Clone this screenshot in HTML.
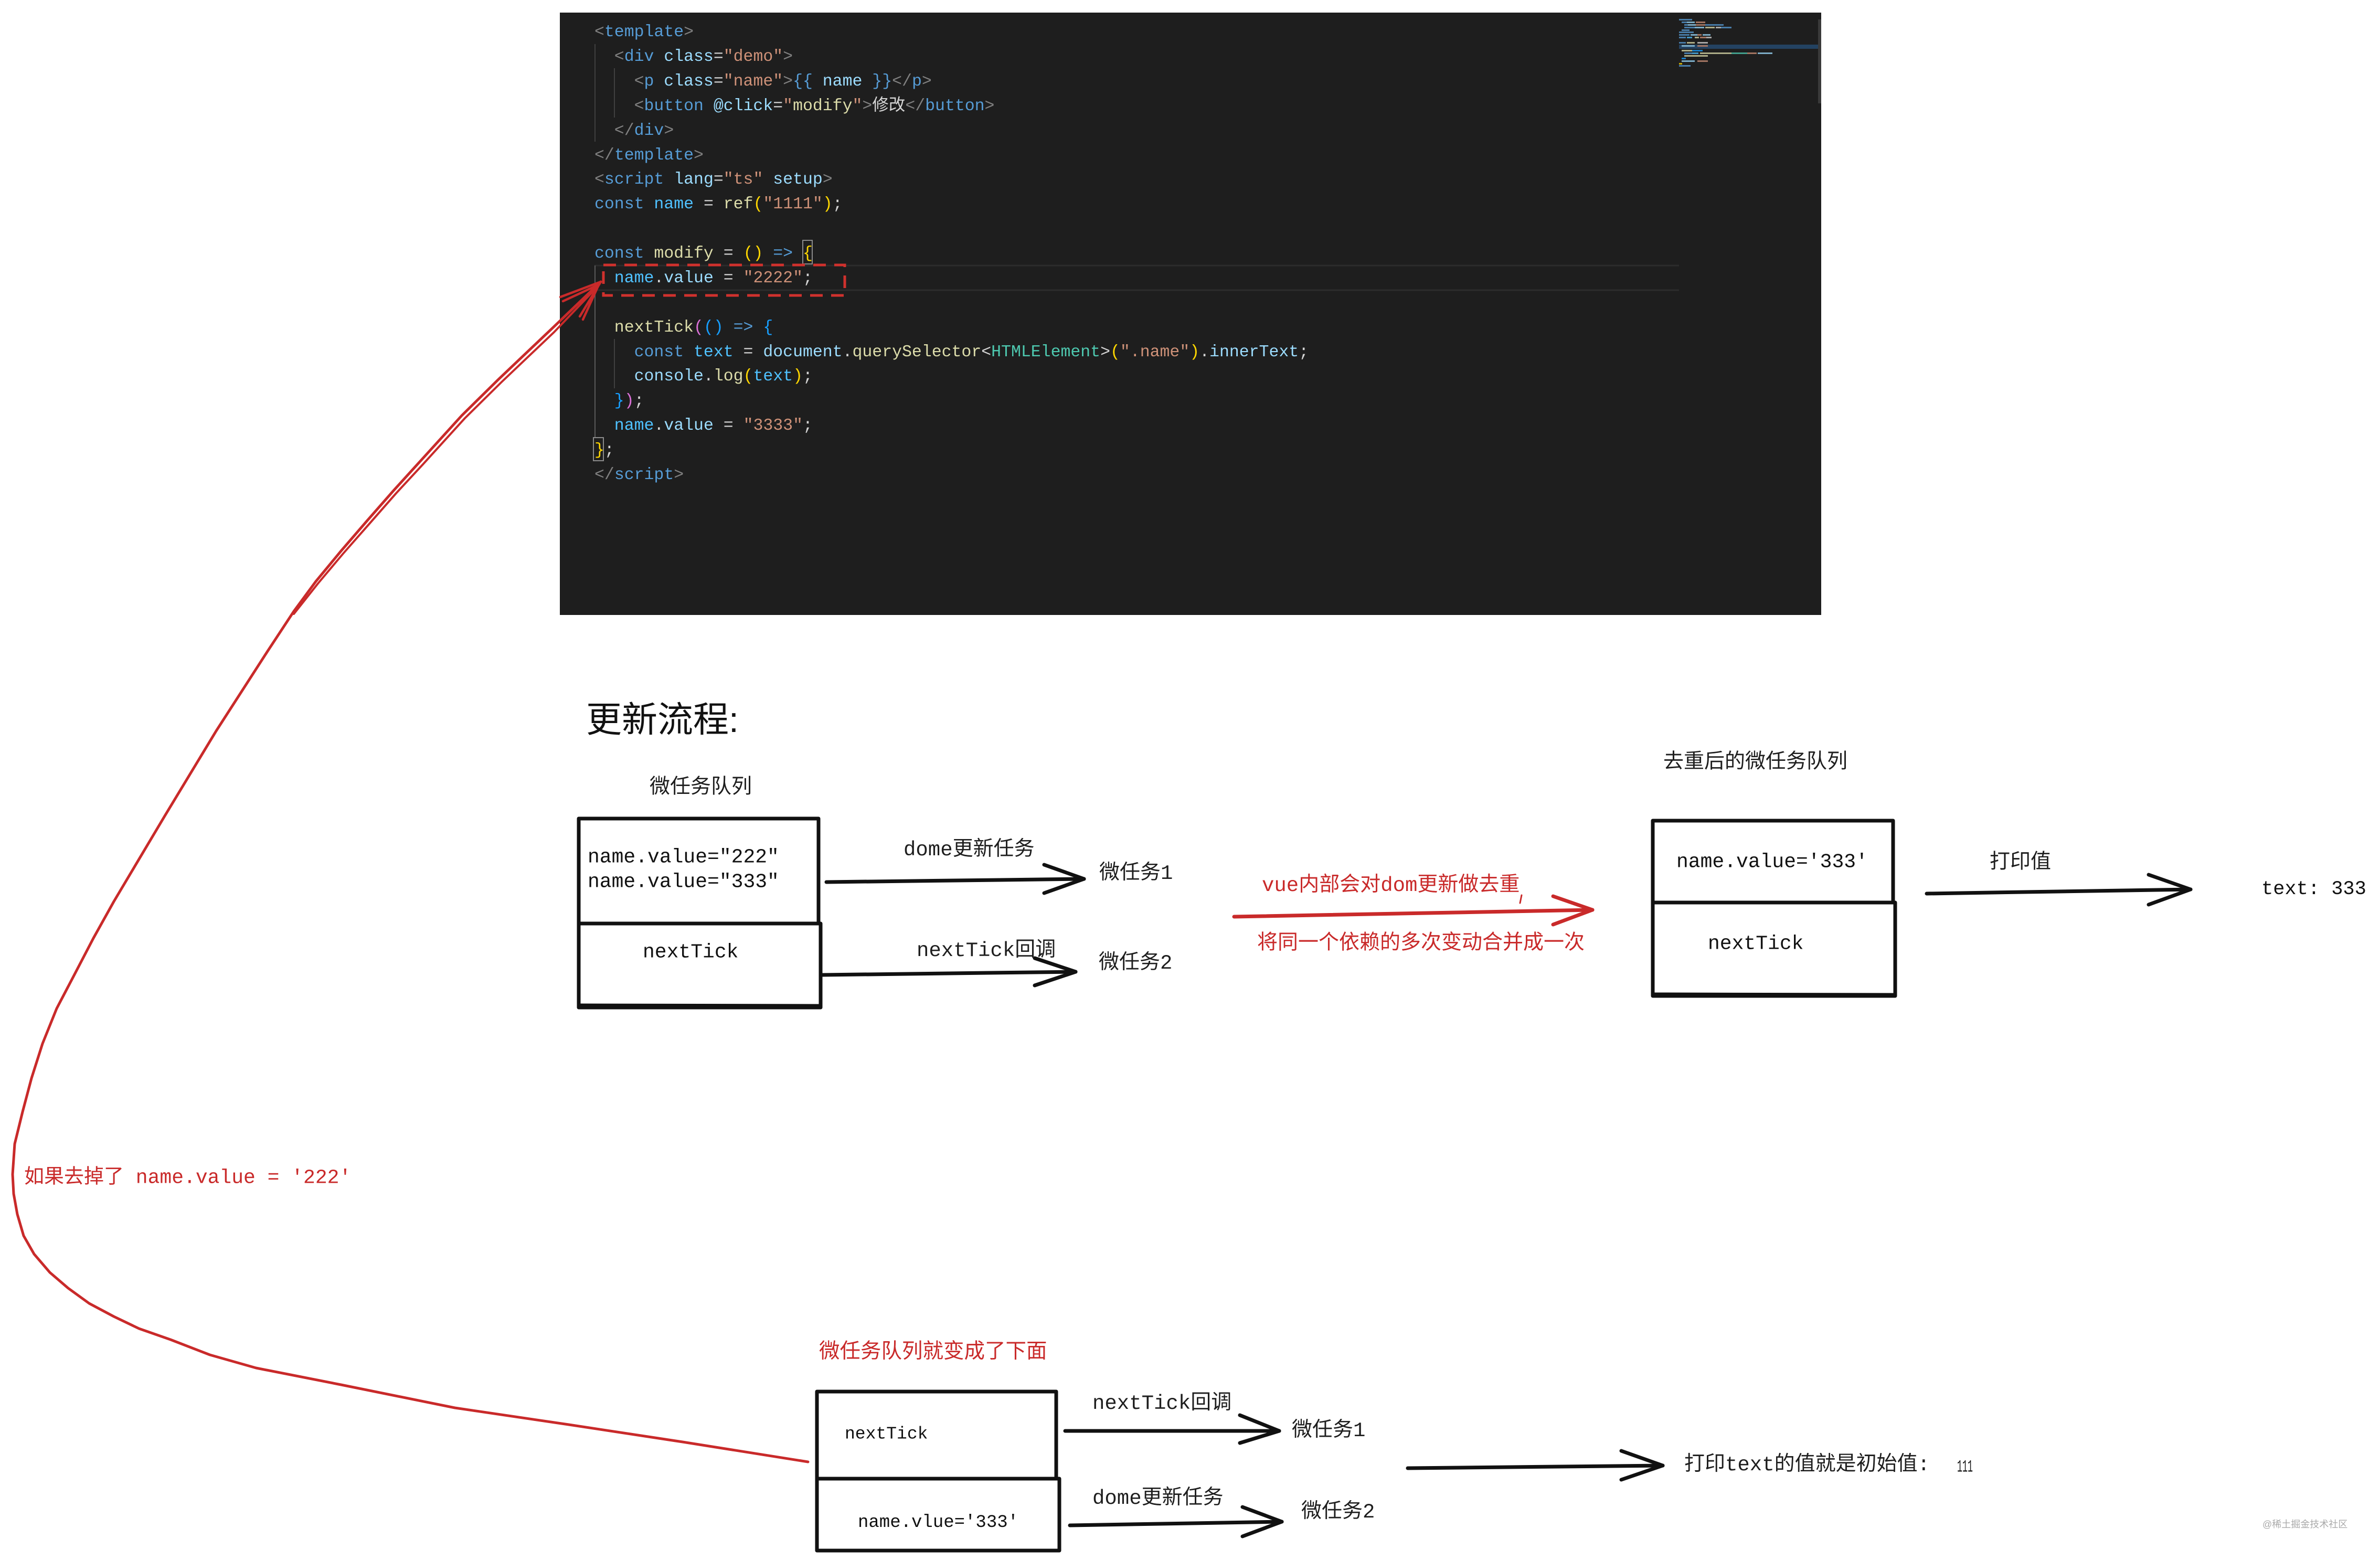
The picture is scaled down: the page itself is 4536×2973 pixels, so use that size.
<!DOCTYPE html>
<html>
<head>
<meta charset="utf-8">
<style>
html,body{margin:0;padding:0;background:#ffffff;width:4536px;height:2973px;overflow:hidden}
svg{display:block}
.code{font-family:"Liberation Mono","Noto Sans CJK SC",monospace;font-size:31.5px;white-space:pre}
.mono{font-family:"Liberation Mono","Noto Sans CJK SC",monospace;white-space:pre}
.cjk{font-family:"Liberation Sans","Noto Sans CJK SC",sans-serif;white-space:pre}
</style>
</head>
<body>
<svg width="4536" height="2973" viewBox="0 0 4536 2973" xmlns="http://www.w3.org/2000/svg">
<rect x="0" y="0" width="4536" height="2973" fill="#ffffff"/>

<!-- ===== Code editor screenshot ===== -->
<rect x="1067" y="24" width="2404" height="1148" fill="#1e1e1e"/>
<!-- current line highlight -->
<line x1="1133" y1="506" x2="3200" y2="506" stroke="#2c2c2c" stroke-width="3"/>
<line x1="1133" y1="553" x2="3200" y2="553" stroke="#2c2c2c" stroke-width="3"/>
<!-- indent guides -->
<line x1="1134" y1="84" x2="1134" y2="270" stroke="#404040" stroke-width="2"/>
<line x1="1171" y1="130" x2="1171" y2="224" stroke="#404040" stroke-width="2"/>
<line x1="1134" y1="506" x2="1134" y2="834" stroke="#5a5a5a" stroke-width="2"/>
<line x1="1171" y1="646" x2="1171" y2="740" stroke="#404040" stroke-width="2"/>
<!-- bracket match boxes -->
<rect x="1530" y="458" width="18" height="45" fill="none" stroke="#8a8a8a" stroke-width="2"/>
<rect x="1131" y="834" width="19" height="44" fill="none" stroke="#8a8a8a" stroke-width="2"/>

<g class="code" dominant-baseline="central">
<text x="1133" y="61"><tspan fill="#808080">&lt;</tspan><tspan fill="#569cd6">template</tspan><tspan fill="#808080">&gt;</tspan></text>
<text x="1170.8" y="108"><tspan fill="#808080">&lt;</tspan><tspan fill="#569cd6">div</tspan><tspan fill="#9cdcfe"> class</tspan><tspan fill="#d4d4d4">=</tspan><tspan fill="#ce9178">"demo"</tspan><tspan fill="#808080">&gt;</tspan></text>
<text x="1208.6" y="155"><tspan fill="#808080">&lt;</tspan><tspan fill="#569cd6">p</tspan><tspan fill="#9cdcfe"> class</tspan><tspan fill="#d4d4d4">=</tspan><tspan fill="#ce9178">"name"</tspan><tspan fill="#808080">&gt;</tspan><tspan fill="#569cd6">{{ </tspan><tspan fill="#9cdcfe">name</tspan><tspan fill="#569cd6"> }}</tspan><tspan fill="#808080">&lt;/</tspan><tspan fill="#569cd6">p</tspan><tspan fill="#808080">&gt;</tspan></text>
<text x="1208.6" y="202"><tspan fill="#808080">&lt;</tspan><tspan fill="#569cd6">button</tspan><tspan fill="#9cdcfe"> @click</tspan><tspan fill="#d4d4d4">=</tspan><tspan fill="#ce9178">"</tspan><tspan fill="#dcdcaa">modify</tspan><tspan fill="#ce9178">"</tspan><tspan fill="#808080">&gt;</tspan><tspan fill="#d4d4d4">修改</tspan><tspan fill="#808080">&lt;/</tspan><tspan fill="#569cd6">button</tspan><tspan fill="#808080">&gt;</tspan></text>
<text x="1170.8" y="249"><tspan fill="#808080">&lt;/</tspan><tspan fill="#569cd6">div</tspan><tspan fill="#808080">&gt;</tspan></text>
<text x="1133" y="296"><tspan fill="#808080">&lt;/</tspan><tspan fill="#569cd6">template</tspan><tspan fill="#808080">&gt;</tspan></text>
<text x="1133" y="342"><tspan fill="#808080">&lt;</tspan><tspan fill="#569cd6">script</tspan><tspan fill="#9cdcfe"> lang</tspan><tspan fill="#d4d4d4">=</tspan><tspan fill="#ce9178">"ts"</tspan><tspan fill="#9cdcfe"> setup</tspan><tspan fill="#808080">&gt;</tspan></text>
<text x="1133" y="389"><tspan fill="#569cd6">const</tspan><tspan fill="#d4d4d4"> </tspan><tspan fill="#4fc1ff">name</tspan><tspan fill="#d4d4d4"> = </tspan><tspan fill="#dcdcaa">ref</tspan><tspan fill="#ffd700">(</tspan><tspan fill="#ce9178">"1111"</tspan><tspan fill="#ffd700">)</tspan><tspan fill="#d4d4d4">;</tspan></text>
<text x="1133" y="483"><tspan fill="#569cd6">const</tspan><tspan fill="#d4d4d4"> </tspan><tspan fill="#dcdcaa">modify</tspan><tspan fill="#d4d4d4"> = </tspan><tspan fill="#ffd700">()</tspan><tspan fill="#d4d4d4"> </tspan><tspan fill="#569cd6">=&gt;</tspan><tspan fill="#d4d4d4"> </tspan><tspan fill="#ffd700">{</tspan></text>
<text x="1170.8" y="530"><tspan fill="#4fc1ff">name</tspan><tspan fill="#d4d4d4">.</tspan><tspan fill="#9cdcfe">value</tspan><tspan fill="#d4d4d4"> = </tspan><tspan fill="#ce9178">"2222"</tspan><tspan fill="#d4d4d4">;</tspan></text>
<text x="1170.8" y="624"><tspan fill="#dcdcaa">nextTick</tspan><tspan fill="#da70d6">(</tspan><tspan fill="#179fff">()</tspan><tspan fill="#d4d4d4"> </tspan><tspan fill="#569cd6">=&gt;</tspan><tspan fill="#d4d4d4"> </tspan><tspan fill="#179fff">{</tspan></text>
<text x="1208.6" y="671"><tspan fill="#569cd6">const</tspan><tspan fill="#d4d4d4"> </tspan><tspan fill="#4fc1ff">text</tspan><tspan fill="#d4d4d4"> = </tspan><tspan fill="#9cdcfe">document</tspan><tspan fill="#d4d4d4">.</tspan><tspan fill="#dcdcaa">querySelector</tspan><tspan fill="#d4d4d4">&lt;</tspan><tspan fill="#4ec9b0">HTMLElement</tspan><tspan fill="#d4d4d4">&gt;</tspan><tspan fill="#ffd700">(</tspan><tspan fill="#ce9178">".name"</tspan><tspan fill="#ffd700">)</tspan><tspan fill="#d4d4d4">.</tspan><tspan fill="#9cdcfe">innerText</tspan><tspan fill="#d4d4d4">;</tspan></text>
<text x="1208.6" y="717"><tspan fill="#9cdcfe">console</tspan><tspan fill="#d4d4d4">.</tspan><tspan fill="#dcdcaa">log</tspan><tspan fill="#ffd700">(</tspan><tspan fill="#4fc1ff">text</tspan><tspan fill="#ffd700">)</tspan><tspan fill="#d4d4d4">;</tspan></text>
<text x="1170.8" y="764"><tspan fill="#179fff">}</tspan><tspan fill="#da70d6">)</tspan><tspan fill="#d4d4d4">;</tspan></text>
<text x="1170.8" y="811"><tspan fill="#4fc1ff">name</tspan><tspan fill="#d4d4d4">.</tspan><tspan fill="#9cdcfe">value</tspan><tspan fill="#d4d4d4"> = </tspan><tspan fill="#ce9178">"3333"</tspan><tspan fill="#d4d4d4">;</tspan></text>
<text x="1133" y="858"><tspan fill="#ffd700">}</tspan><tspan fill="#d4d4d4">;</tspan></text>
<text x="1133" y="905"><tspan fill="#808080">&lt;/</tspan><tspan fill="#569cd6">script</tspan><tspan fill="#808080">&gt;</tspan></text>
</g>

<!-- minimap -->
<g opacity="0.75">
<rect x="3200" y="85" width="265" height="8" fill="#264f78"/>
<rect x="3200" y="36" width="25" height="3" fill="#569cd6"/>
<rect x="3205" y="41" width="10" height="3" fill="#569cd6"/><rect x="3215" y="41" width="15" height="3" fill="#9cdcfe"/><rect x="3232" y="41" width="18" height="3" fill="#ce9178"/>
<rect x="3210" y="46" width="7" height="3" fill="#569cd6"/><rect x="3217" y="46" width="15" height="3" fill="#9cdcfe"/><rect x="3232" y="46" width="18" height="3" fill="#ce9178"/><rect x="3250" y="46" width="35" height="3" fill="#569cd6"/>
<rect x="3210" y="51" width="20" height="3" fill="#569cd6"/><rect x="3230" y="51" width="18" height="3" fill="#9cdcfe"/><rect x="3250" y="51" width="18" height="3" fill="#dcdcaa"/><rect x="3270" y="51" width="10" height="3" fill="#d4d4d4"/><rect x="3280" y="51" width="20" height="3" fill="#569cd6"/>
<rect x="3205" y="56" width="15" height="3" fill="#569cd6"/>
<rect x="3200" y="60" width="28" height="3" fill="#569cd6"/>
<rect x="3200" y="65" width="20" height="3" fill="#569cd6"/><rect x="3222" y="65" width="13" height="3" fill="#9cdcfe"/><rect x="3235" y="65" width="8" height="3" fill="#ce9178"/><rect x="3245" y="65" width="15" height="3" fill="#9cdcfe"/>
<rect x="3200" y="70" width="13" height="3" fill="#569cd6"/><rect x="3215" y="70" width="10" height="3" fill="#4fc1ff"/><rect x="3230" y="70" width="8" height="3" fill="#dcdcaa"/><rect x="3240" y="70" width="12" height="3" fill="#ce9178"/><rect x="3252" y="70" width="10" height="3" fill="#d4d4d4"/>
<rect x="3200" y="80" width="13" height="3" fill="#569cd6"/><rect x="3215" y="80" width="15" height="3" fill="#dcdcaa"/><rect x="3235" y="80" width="20" height="3" fill="#d4d4d4"/>
<rect x="3205" y="86" width="25" height="3" fill="#9cdcfe"/><rect x="3235" y="86" width="20" height="3" fill="#ce9178"/>
<rect x="3205" y="95" width="20" height="3" fill="#dcdcaa"/><rect x="3225" y="95" width="20" height="3" fill="#179fff"/>
<rect x="3210" y="100" width="15" height="3" fill="#569cd6"/><rect x="3225" y="100" width="12" height="3" fill="#4fc1ff"/><rect x="3240" y="100" width="60" height="3" fill="#dcdcaa"/><rect x="3300" y="100" width="30" height="3" fill="#4ec9b0"/><rect x="3330" y="100" width="18" height="3" fill="#ce9178"/><rect x="3350" y="100" width="28" height="3" fill="#9cdcfe"/>
<rect x="3210" y="105" width="45" height="3" fill="#dcdcaa"/>
<rect x="3205" y="110" width="8" height="3" fill="#179fff"/>
<rect x="3205" y="115" width="25" height="3" fill="#9cdcfe"/><rect x="3235" y="115" width="20" height="3" fill="#ce9178"/>
<rect x="3200" y="120" width="6" height="3" fill="#ffd700"/>
<rect x="3200" y="124" width="22" height="3" fill="#569cd6"/>
</g>
<rect x="3465" y="37" width="6" height="160" fill="#3a3a3a"/>

<!-- red dashed box -->
<rect x="1150" y="505" width="460" height="58" fill="none" stroke="#d0312d" stroke-width="5" stroke-dasharray="24 16"/>

<!-- ===== red curved connector ===== -->
<g fill="none" stroke="#c92a2a" stroke-linecap="round" stroke-linejoin="round">
<polyline stroke-width="5" points="1540,2786 1301,2748 1084,2715 867,2683 650,2639 488,2607 400,2582 325,2553 265,2532 217,2509 170,2484 130,2455 95,2425 65,2390 45,2355 33,2314 26,2275 24,2238 28,2180 43,2119 60,2055 81,1989 108,1922 141,1859 178,1788 217,1718 314,1555 412,1393 510,1241 560,1165 602,1108 650,1050 700,992 750,935 800,880 880,792 950,723 1050,628 1145,537"/>
<polyline stroke-width="4" points="560,1170 606,1112 654,1055 705,997 755,940 806,885 886,797 956,728 1056,633 1140,545"/>
<line x1="1145" y1="537" x2="1068" y2="566" stroke-width="4.5"/>
<line x1="1142" y1="542" x2="1073" y2="574" stroke-width="4.5"/>
<line x1="1145" y1="537" x2="1105" y2="603" stroke-width="4.5"/>
<line x1="1140" y1="545" x2="1111" y2="609" stroke-width="4.5"/>
</g>
<text class="mono" x="46" y="2245" font-size="38" fill="#c92a2a" dominant-baseline="central">如果去掉了 name.value = '222'</text>

<!-- ===== 更新流程 section ===== -->
<text class="cjk" x="1117" y="1372" font-size="68" fill="#111" dominant-baseline="central">更新流程:</text>
<text class="cjk" x="1238" y="1499" font-size="39" fill="#1e1e1e" dominant-baseline="central">微任务队列</text>

<g fill="none" stroke="#111" stroke-width="7" stroke-linecap="round" stroke-linejoin="round">
<!-- box A -->
<rect x="1103" y="1560" width="457" height="200"/>
<rect x="1103" y="1760" width="461" height="160"/>
<line x1="1103" y1="1915" x2="1562" y2="1916" stroke-width="5"/>
<!-- arrow A1 -->
<line x1="1575" y1="1681" x2="2066" y2="1675"/>
<line x1="1990" y1="1648" x2="2066" y2="1675"/>
<line x1="1990" y1="1702" x2="2066" y2="1675"/>
<!-- arrow A2 -->
<line x1="1566" y1="1858" x2="2050" y2="1852"/>
<line x1="1972" y1="1826" x2="2050" y2="1852"/>
<line x1="1972" y1="1878" x2="2050" y2="1852"/>
</g>
<g class="mono" font-size="38" fill="#111" dominant-baseline="central">
<text x="1120" y="1634">name.value="222"</text>
<text x="1120" y="1681">name.value="333"</text>
<text x="1225" y="1815">nextTick</text>
</g>
<g class="mono" font-size="39" fill="#1e1e1e" dominant-baseline="central">
<text x="1722" y="1620">dome更新任务</text>
<text x="2095" y="1665">微任务1</text>
<text x="1747" y="1812">nextTick回调</text>
<text x="2094" y="1836">微任务2</text>
</g>

<!-- red middle arrow -->
<g fill="none" stroke="#c92a2a" stroke-width="7" stroke-linecap="round">
<line x1="2352" y1="1747" x2="3035" y2="1734"/>
<line x1="2960" y1="1708" x2="3035" y2="1734"/>
<line x1="2960" y1="1762" x2="3035" y2="1734"/>
<line x1="2900" y1="1706" x2="2897" y2="1721" stroke-width="3"/>
</g>
<text class="mono" x="2405" y="1688" font-size="39" fill="#c92a2a" dominant-baseline="central">vue内部会对dom更新做去重</text>
<text class="cjk" x="2396" y="1796" font-size="39" fill="#c92a2a" dominant-baseline="central">将同一个依赖的多次变动合并成一次</text>

<!-- right section -->
<text class="cjk" x="3170" y="1451" font-size="39" fill="#1e1e1e" dominant-baseline="central">去重后的微任务队列</text>
<g fill="none" stroke="#111" stroke-width="7" stroke-linecap="round" stroke-linejoin="round">
<rect x="3150" y="1564" width="458" height="156"/>
<rect x="3150" y="1720" width="462" height="178"/>
<line x1="3150" y1="1894" x2="3610" y2="1895" stroke-width="5"/>
<line x1="3672" y1="1703" x2="4175" y2="1695"/>
<line x1="4095" y1="1667" x2="4175" y2="1695"/>
<line x1="4095" y1="1724" x2="4175" y2="1695"/>
</g>
<g class="mono" font-size="38" fill="#111" dominant-baseline="central">
<text x="3195" y="1643">name.value='333'</text>
<text x="3255" y="1799">nextTick</text>
</g>
<text class="cjk" x="3792" y="1642" font-size="39" fill="#1e1e1e" dominant-baseline="central">打印值</text>
<text class="mono" x="4310" y="1695" font-size="37" fill="#111" dominant-baseline="central">text: 333</text>

<!-- ===== bottom section ===== -->
<text class="cjk" x="1561" y="2575" font-size="39.5" fill="#c92a2a" dominant-baseline="central">微任务队列就变成了下面</text>
<g fill="none" stroke="#111" stroke-width="7" stroke-linecap="round" stroke-linejoin="round">
<rect x="1557" y="2652" width="456" height="166"/>
<rect x="1557" y="2818" width="462" height="137"/>
<!-- arrow C1 -->
<line x1="2030" y1="2727" x2="2438" y2="2727"/>
<line x1="2363" y1="2697" x2="2438" y2="2727"/>
<line x1="2363" y1="2750" x2="2438" y2="2727"/>
<!-- arrow C2 -->
<line x1="2039" y1="2907" x2="2443" y2="2900"/>
<line x1="2368" y1="2872" x2="2443" y2="2900"/>
<line x1="2368" y1="2928" x2="2443" y2="2900"/>
<!-- arrow C3 -->
<line x1="2683" y1="2798" x2="3169" y2="2793"/>
<line x1="3090" y1="2765" x2="3169" y2="2793"/>
<line x1="3090" y1="2820" x2="3169" y2="2793"/>
</g>
<g class="mono" fill="#111" dominant-baseline="central">
<text x="1610" y="2733" font-size="33">nextTick</text>
<text x="1635" y="2902" font-size="34">name.vlue='333'</text>
</g>
<g class="mono" font-size="39" fill="#1e1e1e" dominant-baseline="central">
<text x="2082" y="2675">nextTick回调</text>
<text x="2462" y="2727">微任务1</text>
<text x="2082" y="2856">dome更新任务</text>
<text x="2480" y="2882">微任务2</text>
<text x="3210" y="2792">打印text的值就是初始值:</text>
</g>
<text class="mono" x="3730" y="2796" font-size="32" fill="#111" dominant-baseline="central" textLength="30" lengthAdjust="spacingAndGlyphs">111</text>

<!-- watermark -->
<text class="cjk" x="4312" y="2905" font-size="18" fill="#aaaaaa" dominant-baseline="central">@稀土掘金技术社区</text>
</svg>
</body>
</html>
